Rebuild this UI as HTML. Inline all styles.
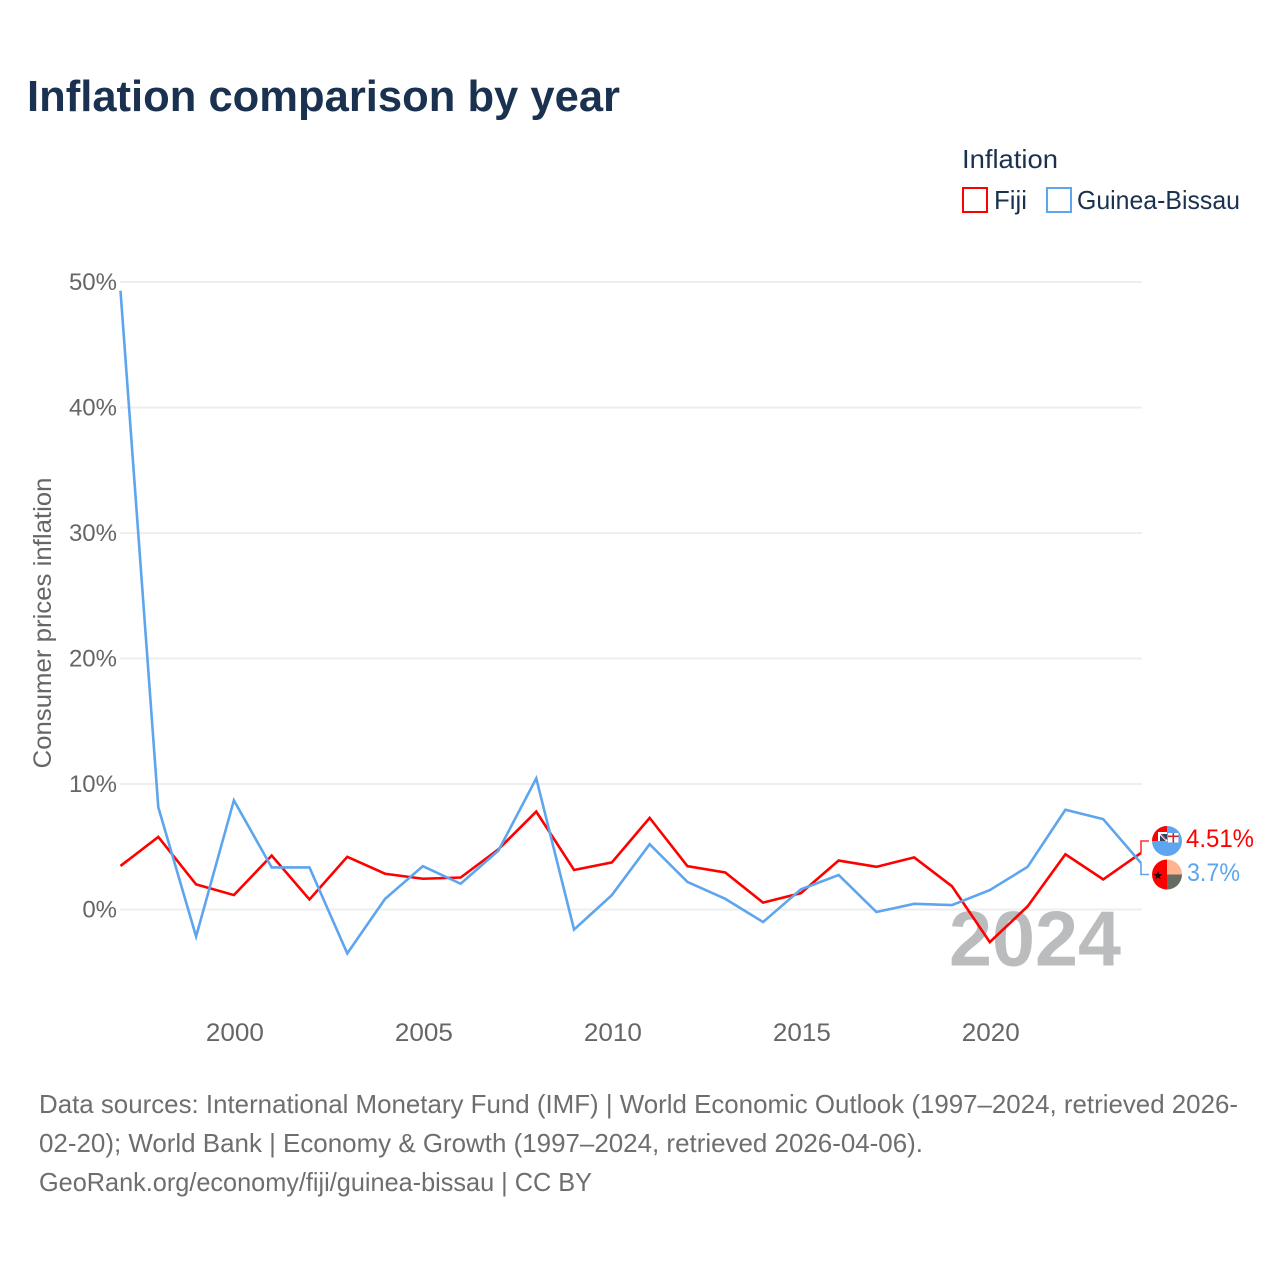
<!DOCTYPE html>
<html lang="en">
<head>
<meta charset="utf-8">
<title>Inflation comparison by year</title>
<style>
html,body{margin:0;padding:0;background:#fff;}
svg{display:block;font-family:"Liberation Sans",sans-serif;}
</style>
</head>
<body>
<svg id="chart" xmlns="http://www.w3.org/2000/svg" width="1280" height="1280" viewBox="0 0 1280 1280">
  <defs>
    <clipPath id="clip-fiji"><circle cx="1167" cy="841" r="15"/></clipPath>
    <clipPath id="clip-gb"><circle cx="1167" cy="874.5" r="15"/></clipPath>
  </defs>
  <rect width="1280" height="1280" fill="#fff"/>
  <text x="27" y="111" font-size="44" font-weight="700" fill="#1a3150" textLength="593" lengthAdjust="spacingAndGlyphs">Inflation comparison by year</text>

  <g>
    <text x="962" y="168" font-size="26" fill="#1a3150" textLength="96" lengthAdjust="spacingAndGlyphs">Inflation</text>
    <rect x="963" y="188" width="24" height="24" fill="none" stroke="#ff0000" stroke-width="2"/>
    <text x="994" y="209" font-size="26" fill="#1a3150" textLength="33" lengthAdjust="spacingAndGlyphs">Fiji</text>
    <rect x="1047" y="188" width="24" height="24" fill="none" stroke="#5da5ee" stroke-width="2"/>
    <text x="1077" y="209" font-size="26" fill="#1a3150" textLength="163" lengthAdjust="spacingAndGlyphs">Guinea-Bissau</text>
  </g>

  <text transform="translate(51,623) rotate(-90)" text-anchor="middle" font-size="25" fill="#666" textLength="291" lengthAdjust="spacingAndGlyphs">Consumer prices inflation</text>

  <g id="grid"></g>
  <g id="yticks"></g>
  <g id="xticks"></g>

  <text x="949" y="965.5" font-size="78" font-weight="700" fill="#bbbcbe" textLength="172" lengthAdjust="spacingAndGlyphs">2024</text>

  <g id="series"></g>
  <g id="connectors"></g>

  <g clip-path="url(#clip-fiji)">
    <rect x="1152" y="826" width="30" height="30" fill="#5da5ee"/>
    <rect x="1152" y="826" width="15" height="15" fill="#ff0000"/>
    <rect x="1158" y="832" width="9" height="9" fill="#fff"/>
    <rect x="1160" y="834" width="7" height="7" fill="#2a4468"/>
    <path d="M1158.500 832.500 L1167 841" stroke="#fff" stroke-width="1.800"/>
    <path d="M1161 834 L1166 839.500" stroke="#e04040" stroke-width="1"/>
    <rect x="1168" y="833" width="10.500" height="9.500" fill="#fff"/>
    <rect x="1168" y="835.500" width="10.500" height="1.600" fill="#d8232a"/>
    <rect x="1172.500" y="833" width="1.600" height="9.500" fill="#d8232a"/>
  </g>

  <g clip-path="url(#clip-gb)">
    <rect x="1152" y="859" width="15" height="31" fill="#ff0000"/>
    <rect x="1167" y="859" width="15" height="15.500" fill="#ffb38f"/>
    <rect x="1167" y="874.500" width="15" height="15.500" fill="#666c60"/>
    <path d="M1158 871 L1159.200 874 L1162.200 874.200 L1159.800 876.200 L1160.600 879.200 L1158 877.500 L1155.400 879.200 L1156.200 876.200 L1153.800 874.200 L1156.800 874 Z" fill="#111"/>
  </g>

  <text x="1186" y="847" font-size="25" fill="#ff0000" textLength="68" lengthAdjust="spacingAndGlyphs">4.51%</text>
  <text x="1187" y="881" font-size="25" fill="#5da5ee" textLength="53" lengthAdjust="spacingAndGlyphs">3.7%</text>

  <g font-size="26" fill="#6e6e6e">
    <text x="39" y="1113" textLength="1199" lengthAdjust="spacingAndGlyphs">Data sources: International Monetary Fund (IMF) | World Economic Outlook (1997–2024, retrieved 2026-</text>
    <text x="39" y="1152" textLength="884" lengthAdjust="spacingAndGlyphs">02-20); World Bank | Economy &amp; Growth (1997–2024, retrieved 2026-04-06).</text>
    <text x="39" y="1191" textLength="553" lengthAdjust="spacingAndGlyphs">GeoRank.org/economy/fiji/guinea-bissau | CC BY</text>
  </g>
</svg>
<script>
const years = [1997,1998,1999,2000,2001,2002,2003,2004,2005,2006,2007,2008,2009,2010,2011,2012,2013,2014,2015,2016,2017,2018,2019,2020,2021,2022,2023,2024];
const fijiValues = [3.47,5.78,2.0,1.15,4.3,0.8,4.2,2.85,2.45,2.55,4.8,7.8,3.15,3.75,7.3,3.45,2.95,0.55,1.3,3.9,3.4,4.15,1.85,-2.6,0.25,4.4,2.4,4.51];
const guineaBissauValues = [49.3,8.15,-2.15,8.7,3.35,3.35,-3.5,0.85,3.45,2.05,4.7,10.45,-1.6,1.15,5.2,2.2,0.85,-1.0,1.6,2.75,-0.2,0.45,0.35,1.55,3.4,7.95,7.2,3.7];
const yTickValues = [0,10,20,30,40,50];
const xTickValues = [2000,2005,2010,2015,2020];

const NS = 'http://www.w3.org/2000/svg';
function xScale(year){ return 120.5 + (year - 1997) * (1141 - 120.5) / 27; }
function yScale(v){ return 909.5 - v * 12.55; }
function make(tag, attrs, parent, text){
  const el = document.createElementNS(NS, tag);
  for (const k in attrs) el.setAttribute(k, attrs[k]);
  if (text !== undefined) el.textContent = text;
  parent.appendChild(el);
  return el;
}
const grid = document.getElementById('grid');
const yticks = document.getElementById('yticks');
const xticks = document.getElementById('xticks');
const series = document.getElementById('series');
const connectors = document.getElementById('connectors');

yTickValues.forEach(function(v){
  const line = make('line', {x1:120, x2:1142, y1:yScale(v), y2:yScale(v), stroke:'#eeeeee', 'stroke-width':2}, grid);
  
  
  const label = make('text', {x:117, y:yScale(v)+8, 'text-anchor':'end', 'font-size':24, fill:'#666'}, yticks, v + '%');
  
  
});
xTickValues.forEach(function(y){
  const label = make('text', {x:xScale(y)+1, y:1041, 'text-anchor':'middle', 'font-size':25, fill:'#666', textLength:58, lengthAdjust:'spacingAndGlyphs'}, xticks, String(y));
  
  
});
function pathFor(values){
  return values.map(function(v,i){ return (i ? 'L' : 'M') + xScale(years[i]).toFixed(2) + ' ' + yScale(v).toFixed(2); }).join(' ');
}
const fijiLine = make('path', {d:pathFor(fijiValues), fill:'none', stroke:'#ff0000', 'stroke-width':2.6, 'stroke-linejoin':'miter'}, series);


const gbLine = make('path', {d:pathFor(guineaBissauValues), fill:'none', stroke:'#5da5ee', 'stroke-width':2.6, 'stroke-linejoin':'miter'}, series);



const last = years.length - 1;
const fijiConnector = make('path', {d:'M' + xScale(years[last]) + ' ' + yScale(fijiValues[last]) + ' V841 H1149', fill:'none', stroke:'#ff3030', 'stroke-width':1.6}, connectors);


const gbConnector = make('path', {d:'M' + xScale(years[last]) + ' ' + yScale(guineaBissauValues[last]) + ' V874.5 H1149', fill:'none', stroke:'#5da5ee', 'stroke-width':1.6}, connectors);


</script>
</body>
</html>
